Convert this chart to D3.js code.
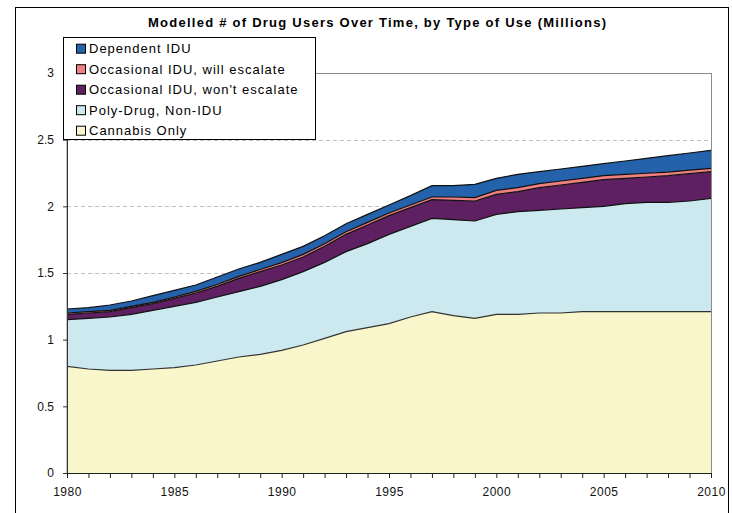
<!DOCTYPE html>
<html>
<head>
<meta charset="utf-8">
<script src="https://cdn.jsdelivr.net/npm/d3@7"></script>
<style>
  html, body { margin: 0; padding: 0; background: #fff; }
  svg { display: block; font-family: Arial, "Liberation Sans", sans-serif; }
</style>
</head>
<body>
<svg id="chart" width="732" height="513"></svg>
<script>
// ---- Data (millions) ----
const years = [1980,1981,1982,1983,1984,1985,1986,1987,1988,1989,1990,1991,1992,1993,1994,1995,1996,1997,1998,1999,2000,2001,2002,2003,2004,2005,2006,2007,2008,2009,2010];
const cannabisOnly = [0.80,0.78,0.77,0.77,0.78,0.79,0.81,0.84,0.87,0.89,0.92,0.96,1.01,1.06,1.09,1.12,1.17,1.21,1.18,1.16,1.19,1.19,1.20,1.20,1.21,1.21,1.21,1.21,1.21,1.21,1.21];
const polyDrugNonIDU = [0.35,0.38,0.40,0.42,0.44,0.46,0.47,0.48,0.49,0.51,0.53,0.55,0.57,0.60,0.63,0.67,0.68,0.70,0.72,0.73,0.75,0.77,0.77,0.78,0.78,0.79,0.81,0.82,0.82,0.83,0.85];
const occasionalWont = [0.04,0.04,0.04,0.05,0.05,0.06,0.07,0.08,0.10,0.11,0.11,0.11,0.12,0.13,0.14,0.14,0.14,0.14,0.145,0.15,0.15,0.15,0.17,0.18,0.19,0.20,0.19,0.19,0.20,0.205,0.20];
const occasionalWill = [0.010,0.010,0.010,0.010,0.010,0.010,0.012,0.014,0.015,0.016,0.018,0.020,0.020,0.020,0.020,0.020,0.020,0.020,0.025,0.025,0.030,0.030,0.030,0.030,0.030,0.030,0.030,0.028,0.027,0.026,0.025];
const dependentIDU = [0.03,0.03,0.04,0.04,0.05,0.05,0.048,0.056,0.055,0.054,0.062,0.06,0.06,0.06,0.06,0.06,0.07,0.085,0.085,0.10,0.09,0.10,0.09,0.09,0.09,0.09,0.10,0.112,0.123,0.129,0.135];

const seriesNames = ["Cannabis Only","Poly-Drug, Non-IDU","Occasional IDU, won't escalate","Occasional IDU, will escalate","Dependent IDU"];
const seriesColors = ["#FAF6CB","#CCE9EF","#5E2060","#F08080","#2462AC"];
const yTicks = [0,0.5,1,1.5,2,2.5,3];
const xLabelYears = [1980,1985,1990,1995,2000,2005,2010];
const title = "Modelled # of Drug Users Over Time, by Type of Use (Millions)";

// ---- Build table ----
const seriesValues = [cannabisOnly, polyDrugNonIDU, occasionalWont, occasionalWill, dependentIDU];
const table = years.map((yr, i) => {
  const row = { year: yr };
  seriesNames.forEach((n, k) => row[n] = seriesValues[k][i]);
  return row;
});

const svg = d3.select("#chart");
const plot = { left: 67, right: 711, top: 73, bottom: 473 };

// outer frame
svg.append("rect").attr("x", 15.5).attr("y", 7.5).attr("width", 713).attr("height", 520)
  .attr("fill", "#fff").attr("stroke", "#000").attr("stroke-width", 1);

const x = d3.scaleLinear().domain([1980, 2010]).range([plot.left, plot.right]);
const y = d3.scaleLinear().domain([0, 3]).range([plot.bottom, plot.top]);

// plot border (gray)
svg.append("rect").attr("x", plot.left).attr("y", plot.top + 0.5)
  .attr("width", plot.right - plot.left + 0.5).attr("height", plot.bottom - plot.top)
  .attr("fill", "#fff").attr("stroke", "#8c8c8c").attr("stroke-width", 1);

// gridlines
svg.append("g").selectAll("line").data(yTicks.filter(t => t > 0 && t < 3)).join("line")
  .attr("x1", plot.left).attr("x2", plot.right)
  .attr("y1", d => Math.round(y(d)) + 0.5).attr("y2", d => Math.round(y(d)) + 0.5)
  .attr("stroke", "#c0c0c0").attr("stroke-dasharray", "4,3").attr("stroke-width", 1);

// stack
const stack = d3.stack().keys(seriesNames);
const stacked = stack(table);

const area = d3.area().x(d => x(d.data.year)).y0(d => y(d[0])).y1(d => y(d[1]));
const topLine = d3.line().x(d => x(d.data.year)).y(d => y(d[1]));

svg.append("g").selectAll("path").data(stacked).join("path")
  .attr("d", area).attr("fill", (d, i) => seriesColors[i]).attr("stroke", "none");

svg.append("g").selectAll("path").data(stacked).join("path")
  .attr("d", topLine).attr("fill", "none")
  .attr("stroke", (d, i) => i === 0 ? "#333" : "#111").attr("stroke-width", 1.2);

// axes
const yAxis = d3.axisLeft(y).tickValues(yTicks).tickSize(4).tickPadding(9)
  .tickFormat(d => String(d));
const gy = svg.append("g").attr("transform", `translate(${plot.left},0)`).call(yAxis);
gy.select(".domain").attr("stroke", "#333");
gy.selectAll(".tick line").attr("stroke", "#333");
gy.selectAll("text").attr("font-size", "12px").attr("fill", "#111")
  .attr("font-family", "Arial, 'Liberation Sans', sans-serif");

const xAxis = d3.axisBottom(x).tickValues(years).tickSize(5).tickPadding(9)
  .tickFormat(d => xLabelYears.includes(d) ? String(d) : "");
const gx = svg.append("g").attr("transform", `translate(0,${plot.bottom})`).call(xAxis);
gx.select(".domain").attr("stroke", "#222");
gx.selectAll(".tick line").attr("stroke", "#222");
gx.selectAll("text").attr("font-size", "12px").attr("fill", "#111")
  .attr("font-family", "Arial, 'Liberation Sans', sans-serif").attr("letter-spacing", "0.5px");

// title
svg.append("text").attr("x", 377).attr("y", 27).attr("text-anchor", "middle")
  .attr("font-size", "13px").attr("font-weight", "bold").attr("fill", "#000")
  .attr("textLength", 458).attr("lengthAdjust", "spacing")
  .text(title);

// legend
const legend = svg.append("g").attr("transform", "translate(63,37)");
legend.append("rect").attr("x", 0.5).attr("y", 0.5).attr("width", 252).attr("height", 102)
  .attr("fill", "#fff").attr("stroke", "#000");
const legendOrder = [4, 3, 2, 1, 0];
const items = legend.selectAll("g.item").data(legendOrder).join("g")
  .attr("class", "item")
  .attr("transform", (d, i) => `translate(0,${11.7 + i * 20.5})`);
items.append("rect").attr("x", 13.5).attr("y", -4.5).attr("width", 9).attr("height", 9)
  .attr("fill", d => seriesColors[d]).attr("stroke", "#000").attr("stroke-width", 1);
items.append("text").attr("x", 26).attr("y", 0).attr("dy", "0.35em")
  .attr("font-size", "13px").attr("fill", "#000").attr("letter-spacing", "1px")
  .text(d => seriesNames[d]);
</script>
</body>
</html>
